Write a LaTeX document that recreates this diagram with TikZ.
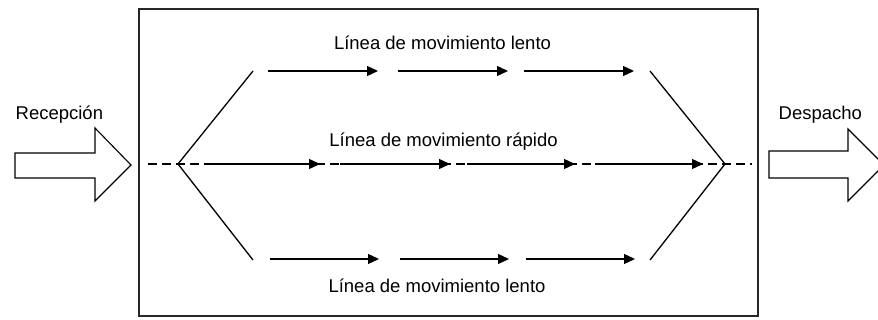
\documentclass[tikz,border=0pt]{standalone}
\usepackage{fontspec}
\setmainfont{Liberation Sans}
\usetikzlibrary{arrows.meta}
\begin{document}
\begin{tikzpicture}[x=1pt,y=-1pt,line width=1.3pt,
  flow/.style={-{Triangle[length=11pt,width=10pt]}},
  axisline/.style={dash pattern=on 9pt off 5pt},
  bigarrow/.style={draw,fill=white,line width=1.1pt,line join=miter},
  lbl/.style={font=\fontsize{18.5}{22}\selectfont,inner sep=0pt,anchor=base}]
\useasboundingbox (0,0) rectangle (878,320);

% plant boundary
\draw[line width=1.5pt,black!85] (139,9) rectangle (758,316);

% key points of the flow
\coordinate (in) at (148,164);
\coordinate (split) at (178,164);
\coordinate (join) at (725,164);
\coordinate (out) at (752,164);
\coordinate (ul) at (253,71);
\coordinate (ur) at (650,71);
\coordinate (ll) at (253,260);
\coordinate (lr) at (650,260);

% branches
\draw (split) -- (ul);
\draw (split) -- (ll);
\draw (ur) -- (join);
\draw (lr) -- (join);

% fast line (dashed axis with solid stages)
\draw[axisline] (in) -- (out);
\coordinate (f1a) at (210,164); \coordinate (f1b) at (320,164);
\coordinate (f2a) at (340,164); \coordinate (f2b) at (450,164);
\coordinate (f3a) at (467,164); \coordinate (f3b) at (575,164);
\coordinate (f4a) at (595,164); \coordinate (f4b) at (703,164);
\draw[flow] (f1a) -- (f1b);
\draw[flow] (f2a) -- (f2b);
\draw[flow] (f3a) -- (f3b);
\draw[flow] (f4a) -- (f4b);

% slow lines
\coordinate (u1a) at (268,71); \coordinate (u1b) at (378,71);
\coordinate (u2a) at (398,71); \coordinate (u2b) at (508,71);
\coordinate (u3a) at (524,71); \coordinate (u3b) at (634,71);
\draw[flow] (u1a) -- (u1b);
\draw[flow] (u2a) -- (u2b);
\draw[flow] (u3a) -- (u3b);
\coordinate (d1a) at (270,259); \coordinate (d1b) at (379,259);
\coordinate (d2a) at (400,259); \coordinate (d2b) at (509,259);
\coordinate (d3a) at (526,259); \coordinate (d3b) at (635,259);
\draw[flow] (d1a) -- (d1b);
\draw[flow] (d2a) -- (d2b);
\draw[flow] (d3a) -- (d3b);

% receiving and dispatch block arrows
\draw[bigarrow] (15,153) -- (95,153) -- (95,128) -- (131,165) -- (95,201) -- (95,178) -- (15,178) -- cycle;
\draw[bigarrow] (769,151) -- (848,151) -- (848,129) -- (884,165) -- (848,201) -- (848,178) -- (769,178) -- cycle;

% labels
\node[lbl] (tslow) at (442.5,50) {Línea de movimiento lento};
\node[lbl] (tfast) at (443.5,147) {Línea de movimiento rápido};
\node[lbl] (bslow) at (437,293) {Línea de movimiento lento};
\node[lbl,anchor=base west] (rec) at (15,120) {Recepción};
\node[lbl,anchor=base west] (des) at (778,120) {Despacho};
\end{tikzpicture}
\end{document}
